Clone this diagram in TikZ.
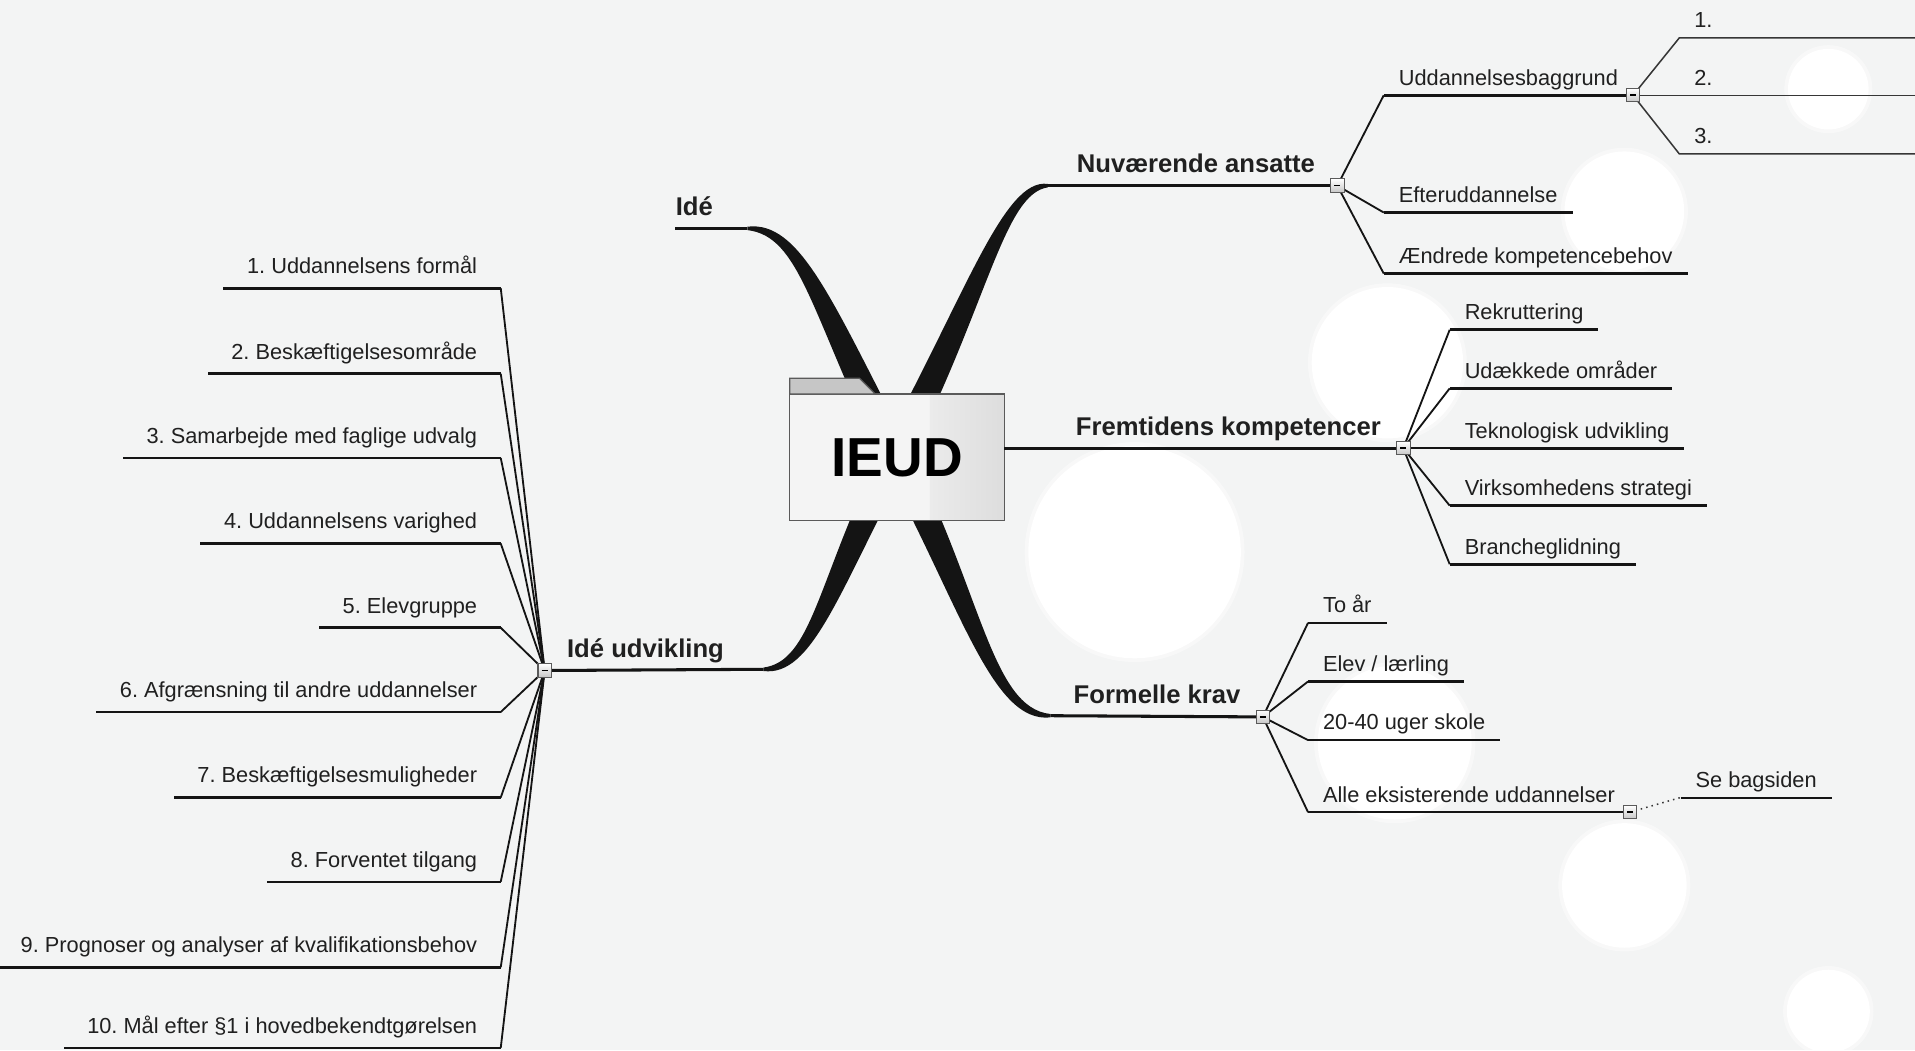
\documentclass[tikz,border=0pt]{standalone}
\usepackage{fontspec}
\setmainfont{Liberation Sans}
\usepackage{tikz}
\usetikzlibrary{positioning}
\definecolor{bggrey}{HTML}{F3F4F4}
\definecolor{inkdark}{HTML}{141414}
\definecolor{textdark}{HTML}{202020}
\definecolor{twiggrey}{HTML}{363636}
\definecolor{boxedge}{HTML}{5A5A5A}
\definecolor{boxlight}{HTML}{F4F4F4}
\definecolor{boxmid}{HTML}{EBEBEB}
\definecolor{boxdark}{HTML}{DDDDDD}
\definecolor{tabgrey}{HTML}{C6C6C6}
\tikzstyle{bokeh}=[fill=white]
\tikzstyle{bokeh_halo}=[fill=white, opacity=0.45]
\tikzstyle{branch_band}=[fill=inkdark]
\tikzstyle{main_line}=[draw=inkdark, line width=1.5pt]
\tikzstyle{leaf_line}=[draw=inkdark, line width=1.25pt]
\tikzstyle{twig_line}=[draw=inkdark, line width=0.9pt]
\tikzstyle{sub_line}=[draw=twiggrey, line width=0.75pt]
\tikzstyle{minus_sign}=[
    {path picture={
        \draw[black, line width=0.8pt]
        ([xshift=-1.5pt]path picture bounding box.center) --
        ([xshift=1.5pt]path picture bounding box.center);
      }
    }
]
\tikzstyle{collapse_box}=[draw=boxedge, line width=0.5pt, inner sep=0pt,
    minimum size=6.6pt, top color=white, bottom color=tabgrey, minus_sign]
\tikzstyle{ieud_box}=[draw=none, fill=boxlight, inner sep=0pt,
    minimum width=105pt, minimum height=61.8pt]
\tikzstyle{ieud_text}=[text=black, font=\bfseries\fontsize{27}{30}\selectfont]
\tikzstyle{main_label}=[font=\bfseries\fontsize{12.6}{15}\selectfont, text=textdark,
    inner xsep=10.8pt, inner ysep=0pt, text depth=6.3pt]
\tikzstyle{leaf_right}=[anchor=south west, font=\fontsize{10.7}{13}\selectfont,
    text=textdark, inner xsep=7.2pt, inner ysep=0pt, text depth=4.8pt]
\tikzstyle{leaf_left}=[anchor=south east, font=\fontsize{10.7}{13}\selectfont,
    text=textdark, inner xsep=11.4pt, inner ysep=0pt, text depth=7pt]

\begin{document}
\frenchspacing
\begin{tikzpicture}[x=0.6pt, y=-0.6pt]
          \useasboundingbox (0,0) rectangle (1568,860);
          \clip (0,0) rectangle (1568,860);
          \fill[bggrey] (0,0) rectangle (1568,860);
          \foreach \cx/\cy/\r in {1497/73/33, 1330/173/49, 1136/297/62, 929/452/87,
                                  1142/608/63, 1330/725/51, 1497/828/34}{
            \fill[bokeh_halo] (\cx,\cy) circle[radius=\r+3];
            \fill[bokeh] (\cx,\cy) circle[radius=\r];
          }
          % tapered branches behind the central box
          \fill[branch_band] (743.7,366.6) .. controls (680.9,245.5) and (655,180.5) .. (612,185.6)
               -- (612,188.4) .. controls (655,193.5) and (663.1,254.5) .. (722.3,377.4) -- cycle;
          \fill[branch_band] (743.6,377.6) .. controls (808.8,249.7) and (822,158.5) .. (858,153.4)
               -- (858,150.6) .. controls (822,145.5) and (791.2,240.3) .. (722.4,366.4) -- cycle;
          \fill[branch_band] (722.3,366.6) .. controls (669.1,475.5) and (665,541.5) .. (625,546.6)
               -- (625,549.4) .. controls (665,554.5) and (686.9,484.5) .. (743.7,377.4) -- cycle;
          \fill[branch_band] (722.4,377.6) .. controls (786.1,494.7) and (812,592.5) .. (860,587.4)
               -- (860,584.6) .. controls (812,579.5) and (803.9,485.3) .. (743.6,366.4) -- cycle;
          \coordinate (ide_end) at (612,187);
          \coordinate (nuv_end) at (858,152);
          \coordinate (udv_end) at (625,548);
          \coordinate (kra_end) at (860,586);
          \node[ieud_box] (ieud) at (734.5,374.5) {};
          \shade[left color=boxmid, right color=boxdark]
               ([xshift=-36.6pt]ieud.north east) rectangle (ieud.south east);
          \draw[boxedge, line width=0.6pt] (ieud.north west) rectangle (ieud.south east);
          \filldraw[fill=tabgrey, draw=boxedge, line width=0.6pt]
               (ieud.north west) -- ++(0,-13) -- ++(57,0) -- ++(13,13) -- cycle;
          \node[ieud_text] (ieud_label) at (ieud.center) {IEUD};
          % main branches
          \node[main_label, anchor=south west, inner xsep=0pt] (ide) at (553,187) {Idé};
          \node[main_label, anchor=south east] (nuv) at (1095,152) {Nuværende ansatte};
          \node[main_label, anchor=south east] (fre) at (1149,367) {Fremtidens kompetencer};
          \node[main_label, anchor=south east] (kra) at (1034,587) {Formelle krav};
          \node[main_label, anchor=south west] (udv) at (446,549) {Idé udvikling};
          \draw[main_line](ide_end) -- (ide.south west);
          \draw[main_line](nuv_end) -- (nuv.south east);
          \draw[main_line](ieud.east |- fre.south east) -- (fre.south east);
          \draw[main_line](kra_end) -- (kra.south east);
          \draw[main_line](udv_end) -- (udv.south west);
          % Nuværende ansatte
          \node[leaf_right] (udd) at (1133,78) {Uddannelsesbaggrund};
          \node[leaf_right] (eft) at (1133,174) {Efteruddannelse};
          \node[leaf_right] (aen) at (1133,224) {Ændrede kompetencebehov};
          \draw[twig_line](nuv.south east) -- (udd.south west);
          \draw[twig_line](nuv.south east) -- (eft.south west);
          \draw[twig_line](nuv.south east) -- (aen.south west);
          \draw[leaf_line](udd.south west) -- (udd.south east);
          \draw[leaf_line](eft.south west) -- (eft.south east);
          \draw[leaf_line](aen.south west) -- (aen.south east);
          \node[leaf_right] (udd1) at (1375,31) {1.};
          \node[leaf_right] (udd2) at (1375,78) {2.};
          \node[leaf_right] (udd3) at (1375,126) {3.};
          \coordinate (udd1_end) at (1575,31);
          \coordinate (udd2_end) at (1575,78);
          \coordinate (udd3_end) at (1575,126);
          \draw[sub_line](udd.south east) -- (udd1.south west) -- (udd1_end);
          \draw[sub_line](udd.south east) -- (udd2.south west) -- (udd2_end);
          \draw[sub_line](udd.south east) -- (udd3.south west) -- (udd3_end);
          % Fremtidens kompetencer
          \node[leaf_right] (rek) at (1187,270) {Rekruttering};
          \node[leaf_right] (uda) at (1187,318) {Udækkede områder};
          \node[leaf_right] (tek) at (1187,367) {Teknologisk udvikling};
          \node[leaf_right] (vir) at (1187,414) {Virksomhedens strategi};
          \node[leaf_right] (bra) at (1187,462) {Brancheglidning};
          \draw[twig_line](fre.south east) -- (rek.south west);
          \draw[twig_line](fre.south east) -- (uda.south west);
          \draw[twig_line](fre.south east) -- (tek.south west);
          \draw[twig_line](fre.south east) -- (vir.south west);
          \draw[twig_line](fre.south east) -- (bra.south west);
          \draw[leaf_line](rek.south west) -- (rek.south east);
          \draw[leaf_line](uda.south west) -- (uda.south east);
          \draw[leaf_line](tek.south west) -- (tek.south east);
          \draw[leaf_line](vir.south west) -- (vir.south east);
          \draw[leaf_line](bra.south west) -- (bra.south east);
          % Formelle krav
          \node[leaf_right] (toa) at (1071,510) {To år};
          \node[leaf_right] (ele) at (1071,558) {Elev / lærling};
          \node[leaf_right] (uge) at (1071,606) {20-40 uger skole};
          \node[leaf_right] (all) at (1071,665) {Alle eksisterende uddannelser};
          \draw[twig_line](kra.south east) -- (toa.south west);
          \draw[twig_line](kra.south east) -- (ele.south west);
          \draw[twig_line](kra.south east) -- (uge.south west);
          \draw[twig_line](kra.south east) -- (all.south west);
          \draw[leaf_line](toa.south west) -- (toa.south east);
          \draw[leaf_line](ele.south west) -- (ele.south east);
          \draw[leaf_line](uge.south west) -- (uge.south east);
          \draw[leaf_line](all.south west) -- (all.south east);
          \node[leaf_right] (seb) at (1376,653) {Se bagsiden};
          \draw[sub_line, dotted](all.south east) -- (seb.south west);
          \draw[leaf_line, line width=1pt](seb.south west) -- (seb.south east);
          % Idé udvikling
          \node[leaf_left] (pkt1) at (410,236) {1. Uddannelsens formål};
          \node[leaf_left] (pkt2) at (410,306) {2. Beskæftigelsesområde};
          \node[leaf_left] (pkt3) at (410,375) {3. Samarbejde med faglige udvalg};
          \node[leaf_left] (pkt4) at (410,445) {4. Uddannelsens varighed};
          \node[leaf_left] (pkt5) at (410,514) {5. Elevgruppe};
          \node[leaf_left] (pkt6) at (410,583) {6. Afgrænsning til andre uddannelser};
          \node[leaf_left] (pkt7) at (410,653) {7. Beskæftigelsesmuligheder};
          \node[leaf_left] (pkt8) at (410,722) {8. Forventet tilgang};
          \node[leaf_left] (pkt9) at (410,792) {9. Prognoser og analyser af kvalifikationsbehov};
          \node[leaf_left] (pkt10) at (410,858) {10. Mål efter §1 i hovedbekendtgørelsen};
          \draw[twig_line](udv.south west) -- (pkt1.south east);
          \draw[twig_line](udv.south west) -- (pkt2.south east);
          \draw[twig_line](udv.south west) -- (pkt3.south east);
          \draw[twig_line](udv.south west) -- (pkt4.south east);
          \draw[twig_line](udv.south west) -- (pkt5.south east);
          \draw[twig_line](udv.south west) -- (pkt6.south east);
          \draw[twig_line](udv.south west) -- (pkt7.south east);
          \draw[twig_line](udv.south west) -- (pkt8.south east);
          \draw[twig_line](udv.south west) -- (pkt9.south east);
          \draw[twig_line](udv.south west) -- (pkt10.south east);
          \draw[leaf_line](pkt1.south east) -- (pkt1.south west);
          \draw[leaf_line](pkt2.south east) -- (pkt2.south west);
          \draw[leaf_line](pkt3.south east) -- (pkt3.south west);
          \draw[leaf_line](pkt4.south east) -- (pkt4.south west);
          \draw[leaf_line](pkt5.south east) -- (pkt5.south west);
          \draw[leaf_line](pkt6.south east) -- (pkt6.south west);
          \draw[leaf_line](pkt7.south east) -- (pkt7.south west);
          \draw[leaf_line](pkt8.south east) -- (pkt8.south west);
          \draw[leaf_line](pkt9.south east) -- (pkt9.south west);
          \draw[leaf_line](pkt10.south east) -- (pkt10.south west);
          % collapse boxes
          \node[collapse_box] (nuv_box) at (nuv.south east) {};
          \node[collapse_box] (fre_box) at (fre.south east) {};
          \node[collapse_box] (kra_box) at (kra.south east) {};
          \node[collapse_box] (udv_box) at (udv.south west) {};
          \node[collapse_box] (udd_box) at (udd.south east) {};
          \node[collapse_box] (all_box) at (all.south east) {};
\end{tikzpicture}
\end{document}
